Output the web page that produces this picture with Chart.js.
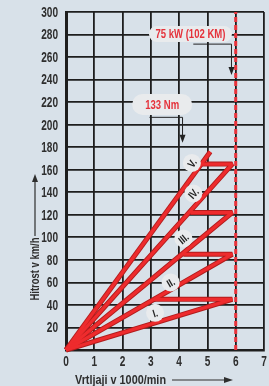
<!DOCTYPE html>
<html>
<head>
<meta charset="utf-8">
<script src="https://cdn.jsdelivr.net/npm/chart.js@4.4.0/dist/chart.umd.min.js"></script>
<style>
  html, body { margin: 0; padding: 0; background: #d8e1e9; }
  #wrap { width: 269px; height: 386px; }
</style>
</head>
<body>
<div id="wrap"><canvas id="chart" width="269" height="386"></canvas></div>
<script>
// values
const rpmTicks = [0, 1, 2, 3, 4, 5, 6, 7];
const speedTicks = [0, 20, 40, 60, 80, 100, 120, 140, 160, 180, 200, 220, 240, 260, 280, 300];
const gears = ["I.", "II.", "III.", "IV.", "V."];
const gearTopRpm = [5.88, 5.88, 5.88, 5.88, 5.1];
const gearTopSpeed = [45, 85, 122, 165, 176];
const shiftBackRpm = [3.1, 4.15, 4.4, 4.8, null];
const gearLabelRpm = [3.15, 3.7, 4.15, 4.5, 4.45];
const gearLabelSpeed = [33, 60, 99, 139, 166];
const maxPowerRpm = 6;
const powerLabel = "75 kW (102 KM)";
const torqueLabel = "133 Nm";

const RED = "#ee2b2d";
const DARK_RED = "#b01c1c";
const FONT = "'Liberation Sans', Arial, sans-serif";
const INK = "#2e2e2e";

function gearPoints(i) {
  const pts = [{ x: 0, y: 0 }, { x: gearTopRpm[i], y: gearTopSpeed[i] }];
  if (shiftBackRpm[i] !== null) pts.push({ x: shiftBackRpm[i], y: gearTopSpeed[i] });
  return pts;
}

const datasets = [];
gears.forEach((g, i) => {
  datasets.push({ data: gearPoints(i), borderColor: DARK_RED, borderWidth: 5, order: 3 });
});
gears.forEach((g, i) => {
  datasets.push({ data: gearPoints(i), borderColor: RED, borderWidth: 3.2, order: 2 });
});
datasets.push({
  data: [{ x: maxPowerRpm, y: 0 }, { x: maxPowerRpm, y: 300 }],
  borderColor: "#e8323a", borderWidth: 3, borderDash: [5, 3], order: 1
});

// draws text squeezed horizontally (the original uses a condensed face)
function narrowText(ctx, text, x, y, size, sx, align) {
  ctx.save();
  ctx.font = "bold " + size + "px " + FONT;
  ctx.textBaseline = "middle";
  ctx.textAlign = "left";
  const w = ctx.measureText(text).width * sx;
  let left = x;
  if (align === "center") left = x - w / 2;
  if (align === "right") left = x - w;
  ctx.translate(left, y);
  ctx.scale(sx, 1);
  ctx.fillText(text, 0, 0);
  ctx.restore();
  return w;
}

function fitText(ctx, text, x, y, size, width, align) {
  ctx.font = "bold " + size + "px " + FONT;
  const sx = width / ctx.measureText(text).width;
  return narrowText(ctx, text, x, y, size, sx, align);
}

function arrowHead(ctx, x, y, dir) {
  ctx.beginPath();
  if (dir === "down") { ctx.moveTo(x - 3, y - 8); ctx.lineTo(x + 3, y - 8); ctx.lineTo(x, y); }
  if (dir === "up") { ctx.moveTo(x - 3, y + 8); ctx.lineTo(x + 3, y + 8); ctx.lineTo(x, y); }
  if (dir === "right") { ctx.moveTo(x - 9, y - 3); ctx.lineTo(x - 9, y + 3); ctx.lineTo(x, y); }
  ctx.closePath();
  ctx.fill();
}

function pill(ctx, cx, cy, w, h, text, textW) {
  const r = h / 2;
  ctx.fillStyle = "#e9ebed";
  ctx.beginPath();
  ctx.moveTo(cx - w / 2 + r, cy - r);
  ctx.lineTo(cx + w / 2 - r, cy - r);
  ctx.arc(cx + w / 2 - r, cy, r, -Math.PI / 2, Math.PI / 2);
  ctx.lineTo(cx - w / 2 + r, cy + r);
  ctx.arc(cx - w / 2 + r, cy, r, Math.PI / 2, Math.PI * 1.5);
  ctx.fill();
  ctx.fillStyle = "#e5323b";
  fitText(ctx, text, cx, cy + 1, 12, textW, "center");
}

const notes = {
  id: "notes",
  afterDraw(chart) {
    const ctx = chart.ctx;
    const xs = chart.scales.x, ys = chart.scales.y;
    ctx.save();

    // tick labels from the library's scales
    ctx.fillStyle = INK;
    ys.ticks.forEach((t) => {
      if (t.value === 0) return;
      narrowText(ctx, String(t.value), 58, ys.getPixelForValue(t.value) + 1, 14, 0.72, "right");
    });
    xs.ticks.forEach((t) => {
      narrowText(ctx, String(t.value), xs.getPixelForValue(t.value), 362, 14, 0.72, "center");
    });

    // gear labels in circles
    gears.forEach((g, i) => {
      const px = xs.getPixelForValue(gearLabelRpm[i]);
      const py = ys.getPixelForValue(gearLabelSpeed[i]);
      const ang = Math.atan2(ys.getPixelForValue(gearTopSpeed[i]) - ys.getPixelForValue(0),
                             xs.getPixelForValue(gearTopRpm[i]) - xs.getPixelForValue(0));
      ctx.fillStyle = "#e9ebed";
      ctx.beginPath();
      ctx.arc(px, py, 9, 0, Math.PI * 2);
      ctx.fill();
      ctx.save();
      ctx.translate(px, py);
      ctx.rotate(ang);
      ctx.fillStyle = "#222";
      narrowText(ctx, g, 0, 1, 11, 0.8, "center");
      ctx.restore();
    });

    // power note
    pill(ctx, xs.getPixelForValue(4.4), ys.getPixelForValue(280.5), 83, 16, powerLabel, 70);
    ctx.strokeStyle = "#222";
    ctx.fillStyle = "#222";
    ctx.lineWidth = 1;
    let ax = xs.getPixelForValue(5.85);
    ctx.beginPath();
    ctx.moveTo(xs.getPixelForValue(4.5), ys.getPixelForValue(271.5));
    ctx.lineTo(ax, ys.getPixelForValue(271.5));
    ctx.lineTo(ax, ys.getPixelForValue(246));
    ctx.stroke();
    arrowHead(ctx, ax, ys.getPixelForValue(244), "down");

    // torque note
    pill(ctx, xs.getPixelForValue(3.4), ys.getPixelForValue(218), 60, 21, torqueLabel, 34);
    ctx.strokeStyle = "#222";
    ctx.fillStyle = "#222";
    ax = xs.getPixelForValue(4.12);
    ctx.beginPath();
    ctx.moveTo(xs.getPixelForValue(2.95), ys.getPixelForValue(206.5));
    ctx.lineTo(ax, ys.getPixelForValue(206.5));
    ctx.lineTo(ax, ys.getPixelForValue(186));
    ctx.stroke();
    arrowHead(ctx, ax, ys.getPixelForValue(184), "down");

    // axis titles with arrows
    ctx.fillStyle = INK;
    ctx.strokeStyle = INK;
    fitText(ctx, "Vrtljaji v 1000/min", 75, 380, 13, 91, "left");
    ctx.lineWidth = 1.2;
    ctx.beginPath();
    ctx.moveTo(172, 380);
    ctx.lineTo(226, 380);
    ctx.stroke();
    arrowHead(ctx, 233, 380, "right");

    ctx.save();
    ctx.translate(35, 269);
    ctx.rotate(-Math.PI / 2);
    fitText(ctx, "Hitrost v km/h", 0, 0, 13, 63, "center");
    ctx.restore();
    ctx.beginPath();
    ctx.moveTo(35, 236);
    ctx.lineTo(35, 182);
    ctx.stroke();
    arrowHead(ctx, 35, 174, "up");

    ctx.restore();
  }
};

new Chart(document.getElementById("chart"), {
  type: "scatter",
  data: { datasets },
  options: {
    responsive: false,
    animation: false,
    devicePixelRatio: 1,
    layout: { padding: { top: 12, right: 5, left: 0, bottom: 0 } },
    elements: { point: { radius: 0 }, line: { tension: 0, borderCapStyle: "butt", borderJoinStyle: "bevel" } },
    datasets: { scatter: { showLine: true, clip: false } },
    plugins: { legend: { display: false }, tooltip: { enabled: false } },
    scales: {
      x: {
        type: "linear", min: 0, max: 7,
        afterBuildTicks: (s) => { s.ticks = rpmTicks.map((v) => ({ value: v })); },
        afterFit: (s) => { s.height = 36; },
        grid: { color: "#1e1e1e", lineWidth: 1.8, drawTicks: false },
        border: { color: "#1e1e1e", width: 2.5 },
        ticks: { display: false }
      },
      y: {
        type: "linear", min: 0, max: 300,
        afterBuildTicks: (s) => { s.ticks = speedTicks.map((v) => ({ value: v })); },
        afterFit: (s) => { s.width = 66; },
        grid: { color: "#1e1e1e", lineWidth: 1.8, drawTicks: false },
        border: { color: "#1e1e1e", width: 3 },
        ticks: { display: false }
      }
    }
  },
  plugins: [notes]
});
</script>
</body>
</html>
